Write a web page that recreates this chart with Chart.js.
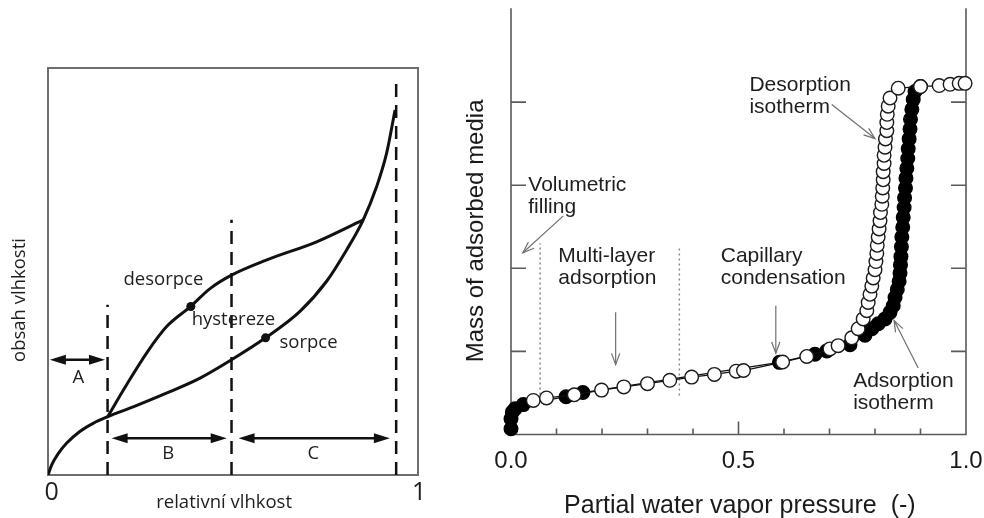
<!DOCTYPE html>
<html><head><meta charset="utf-8">
<script src="https://cdn.jsdelivr.net/npm/chart.js@4/dist/chart.umd.min.js"></script>
<style>
html,body{margin:0;padding:0;background:#fff;width:984px;height:518px;overflow:hidden}
#wrapL{position:absolute;left:0;top:0;width:440px;height:518px}
#wrapR{position:absolute;left:440px;top:0;width:544px;height:518px}
canvas{display:block}
</style></head><body>
<div id="wrapL"><canvas id="cL" width="440" height="518"></canvas></div>
<div id="wrapR"><canvas id="cR" width="544" height="518"></canvas></div>
<script>
// ---------- LEFT PANEL DATA (schematic) ----------
const sorpX = [0, 0.01, 0.028, 0.05, 0.086, 0.122, 0.161, 0.232, 0.32, 0.411, 0.496, 0.588, 0.681, 0.753, 0.807, 0.852, 0.888, 0.915, 0.938];
const sorpY = [0, 0.025, 0.053, 0.078, 0.107, 0.127, 0.143, 0.168, 0.201, 0.238, 0.283, 0.337, 0.402, 0.476, 0.553, 0.627, 0.708, 0.79, 0.897];
const desX = [0.161, 0.212, 0.266, 0.32, 0.384, 0.438, 0.496, 0.59, 0.726, 0.852];
const desY = [0.143, 0.221, 0.299, 0.364, 0.413, 0.458, 0.491, 0.528, 0.573, 0.627];
const markX = [0.386, 0.588];
const markY = [0.414, 0.337];
const dashX = [0.161, 0.496, 0.941];
const dashTop = [0.418, 0.627, 0.971];
const rangeLabels = ['A', 'B', 'C'];
const rangeFrom = [0.005, 0.172, 0.515];
const rangeTo = [0.154, 0.483, 0.924];
const rangeY = [0.283, 0.090, 0.090];
const rangeLabelX = [0.082, 0.325, 0.717];
const rangeLabelY = [0.238, 0.053, 0.053];
const curveLabels = ['desorpce', 'hystereze', 'sorpce'];
const curveLabelX = [0.312, 0.501, 0.704];
const curveLabelY = [0.479, 0.381, 0.325];
const leftTickLabels = ['0', '1'];
const leftTickVals = [0.01, 1.003];
const leftXTitle = 'relativní vlhkost';
const leftYTitle = 'obsah vlhkosti';

// ---------- RIGHT PANEL DATA (isotherms) ----------
const adsX = [0.0, 0.0, 0.003, 0.009, 0.027, 0.121, 0.158, 0.59, 0.668, 0.694, 0.745, 0.778, 0.793, 0.807, 0.822, 0.833, 0.840, 0.844, 0.849, 0.853, 0.855, 0.856, 0.857, 0.858, 0.859, 0.861, 0.862, 0.864, 0.865, 0.867, 0.868, 0.870, 0.872, 0.873, 0.875, 0.877, 0.878, 0.881, 0.884, 0.888, 0.900];
const adsY = [0.07, 0.19, 0.27, 0.31, 0.36, 0.455, 0.505, 0.868, 0.966, 1.006, 1.08, 1.195, 1.273, 1.332, 1.391, 1.47, 1.55, 1.648, 1.746, 1.845, 1.943, 2.041, 2.14, 2.258, 2.376, 2.494, 2.613, 2.731, 2.849, 2.967, 3.085, 3.203, 3.321, 3.439, 3.557, 3.675, 3.794, 3.912, 4.03, 4.128, 4.187];
const dsoX = [0.049, 0.078, 0.139, 0.199, 0.248, 0.300, 0.349, 0.397, 0.447, 0.495, 0.511, 0.597, 0.650, 0.701, 0.719, 0.749, 0.763, 0.774, 0.782, 0.785, 0.789, 0.793, 0.796, 0.800, 0.802, 0.804, 0.805, 0.807, 0.809, 0.811, 0.812, 0.815, 0.816, 0.817, 0.818, 0.818, 0.820, 0.820, 0.822, 0.823, 0.826, 0.826, 0.827, 0.829, 0.833, 0.851, 0.900, 0.941, 0.965, 0.985, 0.998];
const dsoY = [0.41, 0.44, 0.478, 0.534, 0.573, 0.612, 0.652, 0.691, 0.723, 0.762, 0.77, 0.872, 0.939, 1.03, 1.069, 1.163, 1.273, 1.391, 1.49, 1.589, 1.687, 1.786, 1.884, 1.982, 2.081, 2.179, 2.277, 2.376, 2.474, 2.572, 2.671, 2.77, 2.868, 2.967, 3.065, 3.163, 3.262, 3.36, 3.458, 3.557, 3.655, 3.754, 3.853, 3.951, 4.049, 4.167, 4.187, 4.199, 4.214, 4.226, 4.226];
const xMinorTicks = [0.1, 0.2, 0.3, 0.4, 0.6, 0.7, 0.8, 0.9];
const xMajorTicks = [0.5];
const xTickVals = [0, 0.5, 1];
const xTickLabels = ['0.0', '0.5', '1.0'];
const yTicks = [1, 2, 3, 4];
const rightXTitle = 'Partial water vapor pressure  (-)';
const rightYTitle = 'Mass of adsorbed media';
const dotX = [0.064, 0.37];
const dotFrom = [0.48, 0.47];
const dotTo = [2.30, 2.24];
const noteLines = [['Desorption', 'isotherm'], ['Volumetric', 'filling'], ['Multi-layer', 'adsorption'], ['Capillary', 'condensation'], ['Adsorption', 'isotherm']];
const noteX = [0.524, 0.038, 0.104, 0.461, 0.752];
const noteY = [4.199, 2.998, 2.140, 2.147, 0.644];
const noteArrowX0 = [0.705, 0.115, 0.230, 0.582, 0.895];
const noteArrowY0 = [3.971, 2.631, 1.470, 1.550, 0.801];
const noteArrowX1 = [0.800, 0.026, 0.230, 0.582, 0.842];
const noteArrowY1 = [3.561, 2.187, 0.841, 0.978, 1.372];

const toPts = (xs, ys) => xs.map((x, i) => ({x: x, y: ys[i]}));

// ---------- LEFT CHART ----------
function filledArrowHead(ctx, x, y, dir, len, hw) {
  ctx.beginPath();
  ctx.moveTo(x, y);
  ctx.lineTo(x - dir * len, y - hw);
  ctx.lineTo(x - dir * len, y + hw);
  ctx.closePath();
  ctx.fill();
}
const leftPlugin = {
  id: 'leftDecor',
  beforeDatasetsDraw(chart) {
    const ctx = chart.ctx, a = chart.chartArea;
    ctx.save();
    ctx.strokeStyle = '#6e6e6e';
    ctx.lineWidth = 2;
    ctx.strokeRect(a.left, a.top, a.right - a.left, a.bottom - a.top);
    ctx.restore();
  },
  afterDatasetsDraw(chart) {
    const ctx = chart.ctx, xs = chart.scales.x, ys = chart.scales.y;
    ctx.save();
    ctx.fillStyle = '#111';
    ctx.strokeStyle = '#111';
    ctx.lineWidth = 2.5;
    for (let i = 0; i < rangeLabels.length; i++) {
      const x0 = xs.getPixelForValue(rangeFrom[i]), x1 = xs.getPixelForValue(rangeTo[i]);
      const y = ys.getPixelForValue(rangeY[i]);
      ctx.beginPath(); ctx.moveTo(x0 + 8, y); ctx.lineTo(x1 - 8, y); ctx.stroke();
      filledArrowHead(ctx, x0, y, -1, 16, 5);
      filledArrowHead(ctx, x1, y, 1, 16, 5);
    }
    ctx.font = '18.5px "Open Sans", sans-serif';
    ctx.textAlign = 'center';
    ctx.textBaseline = 'middle';
    ctx.fillStyle = '#1e1e1e';
    for (let i = 0; i < rangeLabels.length; i++) {
      ctx.fillText(rangeLabels[i], xs.getPixelForValue(rangeLabelX[i]), ys.getPixelForValue(rangeLabelY[i]));
    }
    for (let i = 0; i < curveLabels.length; i++) {
      ctx.fillText(curveLabels[i], xs.getPixelForValue(curveLabelX[i]), ys.getPixelForValue(curveLabelY[i]));
    }
    ctx.fillText(leftXTitle, xs.getPixelForValue(0.476), ys.getPixelForValue(-0.068));
    ctx.save();
    ctx.translate(20, ys.getPixelForValue(0.43));
    ctx.rotate(-Math.PI / 2);
    ctx.fillText(leftYTitle, 0, 0);
    ctx.restore();
    ctx.font = '25px "Open Sans", sans-serif';
    for (let i = 0; i < leftTickLabels.length; i++) {
      ctx.fillText(leftTickLabels[i], xs.getPixelForValue(leftTickVals[i]), ys.getPixelForValue(-0.043));
    }
    ctx.restore();
  }
};
const leftDatasets = [
  {data: toPts(sorpX, sorpY), borderColor: '#111', borderWidth: 3, pointRadius: 0, cubicInterpolationMode: 'monotone', fill: false},
  {data: toPts(desX, desY), borderColor: '#111', borderWidth: 3, pointRadius: 0, cubicInterpolationMode: 'monotone', fill: false},
  {data: toPts(markX, markY), showLine: false, pointRadius: 4.5, pointBackgroundColor: '#111', pointBorderColor: '#111', pointBorderWidth: 0}
];
dashX.forEach((x, i) => {
  leftDatasets.push({data: [{x: x, y: 0}, {x: x, y: dashTop[i]}], borderColor: '#111', borderWidth: 2.5, borderDash: [13, 8], pointRadius: 0, fill: false});
});
new Chart(document.getElementById('cL'), {
  type: 'line',
  data: {datasets: leftDatasets},
  options: {
    responsive: false, animation: false, devicePixelRatio: 1,
    layout: {padding: {left: 48, top: 68, right: 22, bottom: 43}},
    scales: {
      x: {type: 'linear', min: 0, max: 1, display: false},
      y: {type: 'linear', min: 0, max: 1, display: false}
    },
    plugins: {legend: {display: false}, tooltip: {enabled: false}}
  },
  plugins: [leftPlugin]
});

// ---------- RIGHT CHART ----------
function vArrow(ctx, x0, y0, x1, y1, len) {
  ctx.beginPath(); ctx.moveTo(x0, y0); ctx.lineTo(x1, y1); ctx.stroke();
  const ang = Math.atan2(y1 - y0, x1 - x0);
  ctx.beginPath();
  ctx.moveTo(x1 - len * Math.cos(ang - 0.35), y1 - len * Math.sin(ang - 0.35));
  ctx.lineTo(x1, y1);
  ctx.lineTo(x1 - len * Math.cos(ang + 0.35), y1 - len * Math.sin(ang + 0.35));
  ctx.stroke();
}
const rightPlugin = {
  id: 'rightDecor',
  beforeDatasetsDraw(chart) {
    const ctx = chart.ctx, xs = chart.scales.x, ys = chart.scales.y, a = chart.chartArea;
    ctx.save();
    ctx.strokeStyle = '#5a5a5a';
    ctx.lineWidth = 1.6;
    const xl = xs.getPixelForValue(0), xr = xs.getPixelForValue(1), yb = ys.getPixelForValue(0);
    ctx.beginPath();
    ctx.moveTo(xl, a.top); ctx.lineTo(xl, yb); ctx.lineTo(xr, yb); ctx.lineTo(xr, a.top);
    ctx.stroke();
    ctx.beginPath();
    xMinorTicks.forEach(v => { const p = xs.getPixelForValue(v); ctx.moveTo(p, yb); ctx.lineTo(p, yb - 6); });
    xMajorTicks.forEach(v => { const p = xs.getPixelForValue(v); ctx.moveTo(p, yb); ctx.lineTo(p, yb - 13); });
    yTicks.forEach(v => { const p = ys.getPixelForValue(v); ctx.moveTo(xl, p); ctx.lineTo(xl + 15, p); ctx.moveTo(xr, p); ctx.lineTo(xr - 15, p); });
    ctx.stroke();
    ctx.restore();
  },
  afterDatasetsDraw(chart) {
    const ctx = chart.ctx, xs = chart.scales.x, ys = chart.scales.y;
    ctx.save();
    ctx.fillStyle = '#1a1a1a';
    ctx.textAlign = 'center';
    ctx.textBaseline = 'middle';
    ctx.font = '24px "Liberation Sans", Arial, sans-serif';
    const yb = ys.getPixelForValue(0);
    xTickVals.forEach((v, i) => ctx.fillText(xTickLabels[i], xs.getPixelForValue(v), yb + 27));
    ctx.font = '25px "Liberation Sans", Arial, sans-serif';
    ctx.fillText(rightXTitle, xs.getPixelForValue(0.503), yb + 72);
    ctx.save();
    ctx.font = '24px "Liberation Sans", Arial, sans-serif';
    ctx.translate(xs.getPixelForValue(0) - 35, ys.getPixelForValue(2.45));
    ctx.rotate(-Math.PI / 2);
    ctx.fillText(rightYTitle, 0, 0);
    ctx.restore();
    // notes
    ctx.font = '21px "Liberation Sans", Arial, sans-serif';
    ctx.textAlign = 'left';
    ctx.fillStyle = '#1e1e1e';
    noteLines.forEach((lines, i) => {
      const x = xs.getPixelForValue(noteX[i]);
      const y = ys.getPixelForValue(noteY[i]);
      lines.forEach((t, k) => ctx.fillText(t, x, y + k * 22));
    });
    ctx.strokeStyle = '#707070';
    ctx.lineWidth = 1.2;
    for (let i = 0; i < noteArrowX0.length; i++) {
      vArrow(ctx, xs.getPixelForValue(noteArrowX0[i]), ys.getPixelForValue(noteArrowY0[i]),
        xs.getPixelForValue(noteArrowX1[i]), ys.getPixelForValue(noteArrowY1[i]), 12);
    }
    ctx.restore();
  }
};
const rightDatasets = [
  {data: toPts(dsoX, dsoY), borderColor: '#111', borderWidth: 1.3, pointRadius: 6.8, pointBackgroundColor: '#fff', pointBorderColor: '#1a1a1a', pointBorderWidth: 1.4, fill: false, clip: false, tension: 0},
  {data: toPts(adsX, adsY), borderColor: '#111', borderWidth: 1.3, pointRadius: 6.8, pointBackgroundColor: '#000', pointBorderColor: '#000', pointBorderWidth: 1.4, fill: false, clip: false, tension: 0}
];
dotX.forEach((x, i) => {
  rightDatasets.push({data: [{x: x, y: dotFrom[i]}, {x: x, y: dotTo[i]}], borderColor: '#8a8a8a', borderWidth: 1.5, borderDash: [2, 3], pointRadius: 0, fill: false});
});
new Chart(document.getElementById('cR'), {
  type: 'line',
  data: {datasets: rightDatasets},
  options: {
    responsive: false, animation: false, devicePixelRatio: 1,
    layout: {padding: {left: 71, top: 0, right: 18, bottom: 83.5}},
    scales: {
      x: {type: 'linear', min: 0, max: 1, display: false},
      y: {type: 'linear', min: 0, max: 5.13, display: false}
    },
    plugins: {legend: {display: false}, tooltip: {enabled: false}}
  },
  plugins: [rightPlugin]
});
</script>
</body></html>
